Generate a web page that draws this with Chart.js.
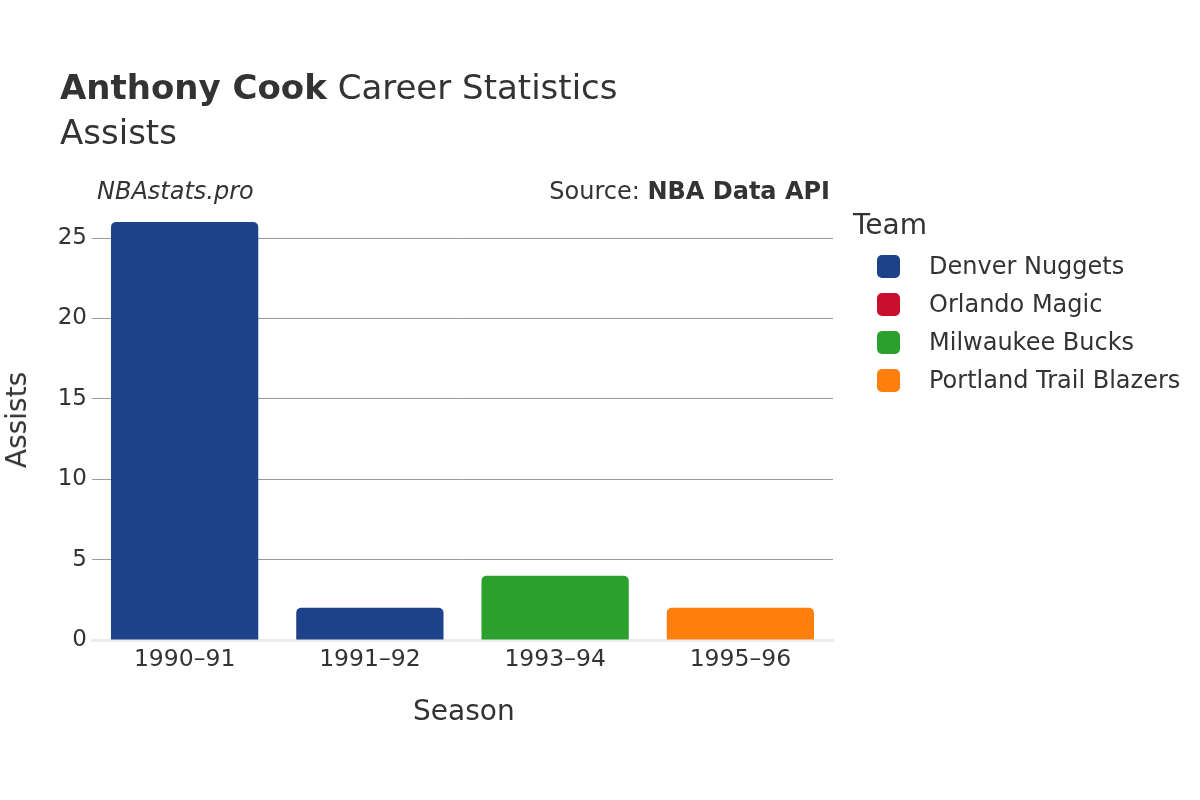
<!DOCTYPE html>
<html>
<head>
<meta charset="utf-8">
<script src="https://cdn.jsdelivr.net/npm/chart.js@4/dist/chart.umd.min.js"></script>
<style>
  html, body { margin: 0; padding: 0; background: #fff; }
  body { width: 1200px; height: 800px; position: relative; overflow: hidden; font-family: "DejaVu Sans", sans-serif; color: #333; }
  #wrap { position: absolute; left: 0; top: 0; width: 1200px; height: 800px; }
  .t { position: absolute; white-space: nowrap; line-height: 1; }
  #legend { position: absolute; left: 853px; top: 211px; }
  .li { position: absolute; left: 24px; height: 24px; white-space: nowrap; }
  .sw { position: absolute; left: 0; top: 0; width: 23px; height: 23px; border-radius: 5px; }
  .lt { position: absolute; left: 52px; top: -2px; font-size: 24px; line-height: 26px; color: #333; }
</style>
</head>
<body>
<div id="wrap"><canvas id="c" width="1200" height="800"></canvas></div>
<div class="t" style="left:60px; top:70px; font-size:34px;"><b>Anthony Cook</b> Career Statistics</div>
<div class="t" style="left:60px; top:115px; font-size:34px;">Assists</div>
<div class="t" style="left:97px; top:179px; font-size:24px; font-style:italic;">NBAstats.pro</div>
<div class="t" style="right:370px; top:179px; font-size:24px;">Source: <b>NBA Data API</b></div>
<div class="t" style="left:413px; top:697px; font-size:28px;">Season</div>
<div class="t" style="left:17px; top:420px; font-size:28px; transform: translate(-50%,-50%) rotate(-90deg);">Assists</div>
<div id="legend"><div class="t" style="left:0; top:0; font-size:28px;">Team</div></div>
<script>
const seasons = ['1990–91', '1991–92', '1993–94', '1995–96'];
const teams = ['Denver Nuggets', 'Orlando Magic', 'Milwaukee Bucks', 'Portland Trail Blazers'];
const teamColors = ['#1d428a', '#c8102e', '#2ca02c', '#ff7f0e'];
const denverNuggets = [26, 2, null, null];
const orlandoMagic = [null, null, null, null];
const milwaukeeBucks = [null, null, 4, null];
const portlandTrailBlazers = [null, null, null, 2];
const yTicks = [0, 5, 10, 15, 20, 25];

const seriesValues = [denverNuggets, orlandoMagic, milwaukeeBucks, portlandTrailBlazers];

// legend
const legend = document.getElementById('legend');
teams.forEach((name, i) => {
  const d = document.createElement('div');
  d.className = 'li';
  d.style.top = (44 + i * 38) + 'px';
  d.innerHTML = '<div class="sw" style="background:' + teamColors[i] + '"></div><div class="lt">' + name + '</div>';
  legend.appendChild(d);
});

const datasets = teams.map((name, i) => ({
  label: name,
  data: seriesValues[i],
  backgroundColor: teamColors[i],
  borderWidth: 0,
  borderRadius: { topLeft: 5, topRight: 5, bottomLeft: 0, bottomRight: 0 },
  borderSkipped: 'bottom',
  barPercentage: 0.795,
  categoryPercentage: 1.0
}));

new Chart(document.getElementById('c'), {
  type: 'bar',
  data: { labels: seasons, datasets },
  options: {
    responsive: false,
    animation: false,
    layout: { padding: { left: 0, right: 367, top: 214, bottom: 0 } },
    plugins: { legend: { display: false }, tooltip: { enabled: false } },
    scales: {
      x: {
        stacked: true,
        grid: { display: false, drawTicks: false },
        border: { display: true, color: '#ebebeb', width: 3 },
        ticks: { color: '#333', font: { family: 'DejaVu Sans', size: 23.5 }, padding: 6 },
        afterFit: s => { s.height = 160; }
      },
      y: {
        stacked: true,
        min: 0,
        max: 26.5,
        afterBuildTicks: s => { s.ticks = yTicks.map(v => ({ value: v })); },
        grid: {
          color: ctx => (ctx.tick && ctx.tick.value === 0) ? 'rgba(0,0,0,0)' : '#9a9a9a',
          lineWidth: 1,
          drawTicks: false
        },
        border: { display: false },
        ticks: { color: '#333', font: { family: 'DejaVu Sans', size: 23 }, padding: 5 },
        afterFit: s => { s.width = 92; }
      }
    }
  }
});
</script>
</body>
</html>
